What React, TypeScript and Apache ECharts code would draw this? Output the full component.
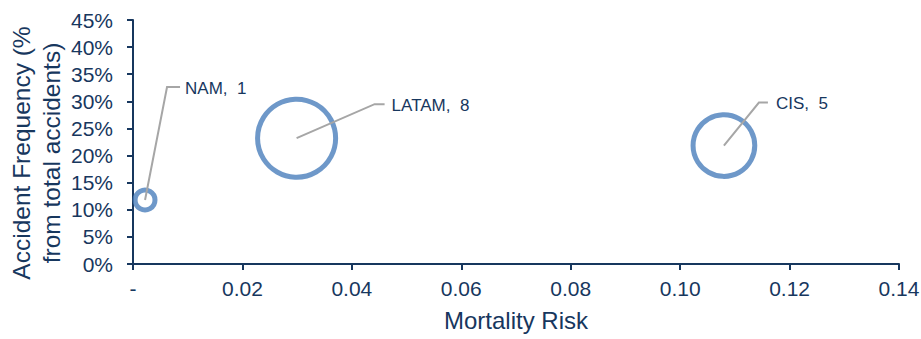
import React, { useEffect, useRef } from "react";
import * as echarts from "echarts";

const regions = ["NAM", "LATAM", "CIS"];
const mortalityRisk = [0.0022, 0.0299, 0.108];
const accidentFrequency = [0.118, 0.232, 0.2185];
const bubbleSize = [0.52, 8, 5];
const labelValues = [1, 8, 5];
const xTicks = [0, 0.02, 0.04, 0.06, 0.08, 0.1, 0.12, 0.14];
const yTicks = [0, 0.05, 0.1, 0.15, 0.2, 0.25, 0.3, 0.35, 0.4, 0.45];

// label leader geometry (pixel offsets from bubble centre): knee, end, text start
const leaderOffsets = [
  { kx: 22, ky: -113, ex: 35, tx: 40 },
  { kx: 78, ky: -34, ex: 88, tx: 95 },
  { kx: 35, ky: -43, ex: 44, tx: 52 },
];

const TEXT = "#17375E";
const FONT = "'Liberation Sans', Arial, sans-serif";

export default function App() {
  const ref = useRef<HTMLDivElement>(null);
  useEffect(() => {
    if (!ref.current) return;
    const chart = echarts.init(ref.current, null, { renderer: "svg" });
    const data = regions.map((r, i) => ({
      name: r,
      value: [mortalityRisk[i], accidentFrequency[i], bubbleSize[i]],
    }));
    chart.setOption({
      animation: false,
      grid: { left: 133, right: 22, top: 20, bottom: 75, outerBoundsMode: "none", containLabel: false },
      xAxis: {
        type: "value",
        min: xTicks[0],
        max: xTicks[xTicks.length - 1],
        interval: 0.02,
        name: "Mortality Risk",
        nameLocation: "middle",
        nameGap: 44,
        nameMoveOverlap: false,
        nameTextStyle: { color: TEXT, fontSize: 24, fontFamily: FONT },
        axisLine: { show: true, lineStyle: { color: TEXT, width: 2 } },
        axisTick: { show: true, length: 6, lineStyle: { color: TEXT, width: 2 } },
        splitLine: { show: false },
        axisLabel: {
          color: TEXT,
          fontSize: 21,
          fontFamily: FONT,
          margin: 14,
          formatter: (v: number) => (v === 0 ? "-" : v.toFixed(2)),
        },
      },
      yAxis: {
        type: "value",
        min: yTicks[0],
        max: yTicks[yTicks.length - 1],
        interval: 0.05,
        name: "Accident Frequency (%\nfrom total accidents)",
        nameLocation: "middle",
        nameRotate: 90,
        nameGap: 67,
        nameMoveOverlap: false,
        nameTextStyle: {
          color: TEXT,
          fontSize: 24.5,
          fontFamily: FONT,
          lineHeight: 30,
          padding: [0, 22, 0, 0],
        },
        axisLine: { show: true, lineStyle: { color: TEXT, width: 2 } },
        axisTick: { show: true, length: 6, lineStyle: { color: TEXT, width: 2 } },
        splitLine: { show: false },
        axisLabel: {
          color: TEXT,
          fontSize: 21,
          fontFamily: FONT,
          margin: 20,
          formatter: (v: number) => Math.round(v * 100) + "%",
        },
      },
      series: [
        {
          type: "scatter",
          data,
          symbol: "circle",
          symbolSize: (val: number[]) => 27.6 * Math.sqrt(val[2]),
          itemStyle: { color: "rgba(0,0,0,0)", borderColor: "#4A7EBB", borderWidth: 5 },
          emphasis: { disabled: true },
          silent: true,
          z: 2,
        },
      ],
    });

    const graphics: any[] = [];
    regions.forEach((r, i) => {
      const p = chart.convertToPixel({ seriesIndex: 0 }, [mortalityRisk[i], accidentFrequency[i]]) as number[];
      const o = leaderOffsets[i];
      graphics.push({
        type: "polyline",
        z: 10,
        silent: true,
        shape: {
          points: [
            [p[0], p[1]],
            [p[0] + o.kx, p[1] + o.ky],
            [p[0] + o.ex, p[1] + o.ky],
          ],
        },
        style: { stroke: "#A6A6A6", lineWidth: 2, fill: null },
      });
      graphics.push({
        type: "text",
        z: 10,
        silent: true,
        x: p[0] + o.tx,
        y: p[1] + o.ky + 1,
        style: {
          text: `${r},  ${labelValues[i]}`,
          fill: TEXT,
          font: `17px ${FONT}`,
          verticalAlign: "middle",
          align: "left",
        },
      });
    });
    chart.setOption({ graphic: graphics });

    return () => chart.dispose();
  }, []);
  return (
    <div
      ref={ref}
      style={{ position: "absolute", left: 0, top: 0, width: 921, height: 339 }}
    />
  );
}
